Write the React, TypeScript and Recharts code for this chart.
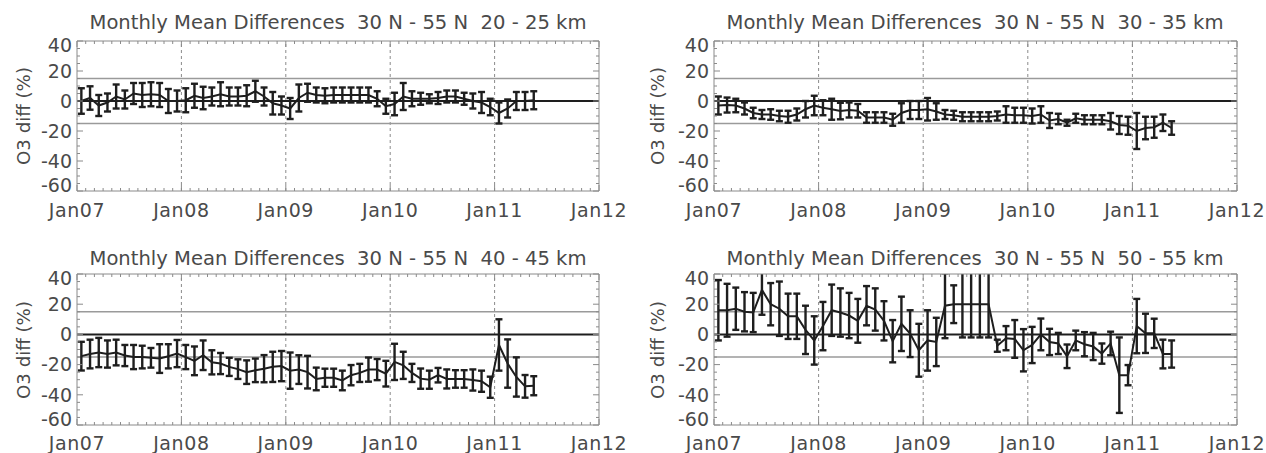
import { ComposedChart, Line, ErrorBar, XAxis, YAxis, ReferenceLine } from "recharts";

// month index: 0 = Jan07 ... 60 = Jan12, points sit mid-month
const YEAR_LABELS = ["Jan07", "Jan08", "Jan09", "Jan10", "Jan11", "Jan12"];
const Y_TICKS = [-60, -55, -50, -45, -40, -35, -30, -25, -20, -15, -10, -5, 0, 5, 10, 15, 20, 25, 30, 35, 40];
const MONTH_TICKS = Array.from({ length: 61 }, (_, i) => i);
const GRID_X = [12, 24, 36, 48];

const diff2025 = [0, 2, -3, -1, 3, 1, 5, 4, 4.5, 4, 0, 0, 0.5, 3.5, 2, 3, 4.5, 3, 3, 3.5, 6.5, 3, -1.5, -3, -5, 2, 5.5, 4, 3.5, 4, 4, 4, 4, 4, 1.5, -3.5, -2, 3, 1.5, 1.5, 1.5, 2, 3, 3, 1.5, 0, -1, -4, -8, -5, 0, 0, 0.5];
const err2025 = [8.5, 7.8, 7, 6, 8, 6, 7, 8, 8, 8, 8, 7, 8, 8, 7.5, 6, 8, 6, 6, 7, 7, 6, 7.5, 6, 7, 9, 6, 5, 5, 5, 5, 5, 5, 5, 5, 5, 7.5, 9, 5, 4, 3, 4, 4, 4, 4, 5, 7, 5.5, 7, 6, 6, 6, 6];

const diff3035 = [-3, -2.7, -3, -5, -8, -9, -9, -10, -10.5, -9, -5.5, -3, -4.5, -5.5, -6.7, -6, -6.5, -11, -11, -11, -12.5, -8, -6, -6, -5.5, -7, -9, -9.5, -10.5, -10.5, -10.5, -10.5, -10, -9, -9.5, -9.5, -10, -9, -13, -12, -14.5, -11.5, -12.5, -12.5, -12.5, -13.5, -16, -16.5, -20, -18, -17.5, -14.5, -18];
const err3035 = [6, 5, 4.5, 4, 3.5, 3, 3.5, 3.5, 4, 4, 5.5, 6.5, 5, 7, 5.5, 5, 4.5, 3.5, 3.5, 3.5, 4, 6.5, 6, 6, 7.5, 5.5, 3, 3, 3, 3, 3, 3, 3, 5.5, 5, 5, 5, 5.5, 5, 3.5, 2, 3, 3, 3, 3, 5.5, 6, 6, 12, 7.5, 7, 5.5, 4.5];

const diff4045 = [-14.4, -13, -12, -13, -12, -14, -15, -15, -15.5, -16, -14.5, -12.7, -15, -17.5, -13.8, -18.5, -19.3, -21.5, -23, -25, -23.8, -22.7, -21.5, -21, -24, -23.3, -25, -29.5, -28.7, -28.7, -30.5, -27, -25.5, -23.3, -23.3, -26, -18.2, -20.5, -25.5, -29.3, -30, -27, -29.5, -29.5, -29.5, -30.2, -31, -35, -7, -19.3, -28.2, -34.4, -34];
const err4045 = [9.5, 9.5, 9.7, 9, 8.5, 7, 8, 7.5, 6.5, 9.5, 8, 9, 8, 9.5, 9.8, 8, 7, 6, 6.5, 7.8, 7.8, 9, 10, 10, 12, 9.5, 10.8, 7.5, 6, 6, 6.5, 6.7, 6, 8, 7, 8.5, 12, 9, 6, 6.7, 6, 4.8, 6.3, 5.8, 5.8, 7, 7, 7, 17, 16, 13, 7.5, 6.3];

const diff5055 = [16, 16, 17, 15, 14.5, 29.5, 20, 17, 12, 12, 3, -4, 5.5, 16, 14.5, 12.5, 9, 19, 16.5, 9, -4.5, 7, 0.5, -10.5, -4, -5, 19, 20, 20, 20, 20, 20, -7.5, -2.5, -3, -10.5, -7, 0, -5, -6, -14.5, -4, -6.5, -8, -12.7, -6, -27, -27, 5.5, 0.7, 0.7, -13, -13];
const err5055 = [20, 17.5, 14, 13, 13, 16.5, 14, 18, 15, 15, 16, 16, 16, 17, 16, 15, 14.5, 13, 14, 13, 14, 18, 15.5, 17.5, 20, 16, 21.5, 12.5, 22, 22, 22, 22, 4, 8, 12.5, 14, 12, 10.5, 8.7, 7, 7.8, 6.5, 8, 9, 6.7, 7.8, 25, 6.7, 18, 13, 9.7, 9.5, 9];

const FONT = "DejaVu Sans";
const TEXT = "#4a4a4a";
const BORDER = "#8a8a8a";
const INK = "#1e1e1e";
const CHART_W = 633;
const YAXIS_W = 40;

function rows(vals: number[], errs: number[]) {
  return vals.map((v, i) => ({ x: i + 0.5, v, e: errs[i] }));
}

function XTickBottom(props: any) {
  const { x, y, payload, labelDy } = props;
  const v = payload.value;
  const major = v % 12 === 0;
  return (
    <g>
      <line x1={x} x2={x} y1={y} y2={y - (major ? 6 : 3)} stroke={BORDER} />
      {major && (
        <text x={x} y={y + labelDy} textAnchor="middle" fontSize={19} letterSpacing={0.6} fontFamily={FONT} fill={TEXT}>
          {YEAR_LABELS[v / 12]}
        </text>
      )}
    </g>
  );
}

function XTickTop(props: any) {
  const { x, y, payload } = props;
  const major = payload.value % 12 === 0;
  return <line x1={x} x2={x} y1={y} y2={y + (major ? 6 : 3)} stroke={BORDER} />;
}

function YTickLeft(props: any) {
  const { x, y, payload } = props;
  const v = payload.value;
  const major = v % 20 === 0;
  // end labels are pulled inside the frame, as in the original plot
  const shift = v === 40 ? 4 : v === -60 ? -6 : 0;
  return (
    <g>
      <line x1={x} x2={x + (major ? 6 : 3)} y1={y} y2={y} stroke={BORDER} />
      {major && (
        <text x={x - 5} y={y + shift} dy="0.36em" textAnchor="end" fontSize={19} fontFamily={FONT} fill={TEXT}>
          {v}
        </text>
      )}
    </g>
  );
}

function YTickRight(props: any) {
  const { x, y, payload } = props;
  const major = payload.value % 20 === 0;
  return <line x1={x} x2={x - (major ? 6 : 3)} y1={y} y2={y} stroke={BORDER} />;
}

type Margin = { top: number; right: number; bottom: number; left: number };

type PanelProps = {
  id: string;
  left: number;
  top: number;
  height: number;
  xh: number;
  margin: Margin;
  labelDy: number;
  data: { x: number; v: number; e: number }[];
};

function Panel({ id, left, top, height, xh, margin, labelDy, data }: PanelProps) {
  return (
    <div className={`panel-${id}`} style={{ position: "absolute", left, top }}>
      <ComposedChart width={CHART_W} height={height} data={data} margin={margin}>
        <XAxis
          xAxisId="b"
          dataKey="x"
          type="number"
          domain={[0, 60]}
          ticks={MONTH_TICKS}
          interval={0}
          height={xh}
          tickSize={0}
          tickMargin={0}
          tickLine={false}
          axisLine={{ stroke: BORDER }}
          tick={<XTickBottom labelDy={labelDy} />}
          allowDataOverflow
        />
        <XAxis
          xAxisId="t"
          dataKey="x"
          orientation="top"
          type="number"
          domain={[0, 60]}
          ticks={MONTH_TICKS}
          interval={0}
          height={1}
          tickSize={0}
          tickMargin={0}
          tickLine={false}
          axisLine={{ stroke: BORDER }}
          tick={<XTickTop />}
          allowDataOverflow
        />
        <YAxis
          yAxisId="l"
          type="number"
          domain={[-60, 40]}
          ticks={Y_TICKS}
          interval={0}
          width={YAXIS_W}
          tickSize={0}
          tickMargin={0}
          tickLine={false}
          axisLine={{ stroke: BORDER }}
          tick={<YTickLeft />}
          allowDataOverflow
        />
        <YAxis
          yAxisId="r"
          orientation="right"
          type="number"
          domain={[-60, 40]}
          ticks={Y_TICKS}
          interval={0}
          width={1}
          tickSize={0}
          tickMargin={0}
          tickLine={false}
          axisLine={{ stroke: BORDER }}
          tick={<YTickRight />}
          allowDataOverflow
        />
        {GRID_X.map((gx) => (
          <ReferenceLine key={gx} xAxisId="b" yAxisId="l" x={gx} stroke={BORDER} strokeDasharray="3 3" />
        ))}
        <ReferenceLine xAxisId="b" yAxisId="l" y={15} stroke="#9a9a9a" strokeWidth={1.5} />
        <ReferenceLine xAxisId="b" yAxisId="l" y={-15} stroke="#9a9a9a" strokeWidth={1.5} />
        <ReferenceLine xAxisId="b" yAxisId="l" y={0} stroke={INK} strokeWidth={2} />
        <Line
          xAxisId="b"
          yAxisId="l"
          dataKey="v"
          stroke={INK}
          strokeWidth={2}
          dot={false}
          isAnimationActive={false}
        >
          <ErrorBar dataKey="e" direction="y" width={3.5} stroke={INK} strokeWidth={2.4} isAnimationActive={false} />
        </Line>
      </ComposedChart>
    </div>
  );
}

const TITLE = "Monthly Mean Differences  30 N - 55 N";
const panels = [
  { id: "a", range: "20 - 25 km", d: rows(diff2025, err2025), left: 0, top: 0, h: 226, xh: 30, m: { top: 40, right: 33, bottom: 5, left: 37 }, dy: 26, cx: 338, ty: 29.3, lx: 30, ly: 116 },
  { id: "b", range: "30 - 35 km", d: rows(diff3035, err3035), left: 633, top: 0, h: 226, xh: 30, m: { top: 40, right: 28, bottom: 5, left: 41 }, dy: 26, cx: 975, ty: 29.3, lx: 664, ly: 116 },
  { id: "c", range: "40 - 45 km", d: rows(diff4045, err4045), left: 0, top: 226, h: 227, xh: 25, m: { top: 47, right: 33, bottom: 3, left: 37 }, dy: 25, cx: 338, ty: 265.3, lx: 30, ly: 350 },
  { id: "d", range: "50 - 55 km", d: rows(diff5055, err5055), left: 633, top: 226, h: 227, xh: 25, m: { top: 47, right: 28, bottom: 3, left: 41 }, dy: 25, cx: 975, ty: 265.3, lx: 664, ly: 350 },
];

// plot-area clip (chart-local coordinates) so whiskers stop at the frame like the original
const clipCss = panels.map((p) => `.panel-${p.id} .recharts-errorBars, .panel-${p.id} .recharts-errorBar { clip-path: url(#clip-${p.id}); }`).join("\n");

export default function App() {
  return (
    <div style={{ position: "fixed", left: 0, top: 0, width: 1266, height: 453, background: "#fff" }}>
      <style>{clipCss}</style>
      <svg width={0} height={0} style={{ position: "absolute" }}>
        <defs>
          {panels.map((p) => (
            <clipPath key={p.id} id={`clip-${p.id}`} clipPathUnits="userSpaceOnUse">
              <rect
                x={p.m.left + YAXIS_W}
                y={p.m.top + 1}
                width={CHART_W - p.m.left - YAXIS_W - p.m.right - 1}
                height={p.h - p.m.top - 1 - p.m.bottom - p.xh}
              />
            </clipPath>
          ))}
        </defs>
      </svg>
      {panels.map((p) => (
        <Panel key={p.id} id={p.id} left={p.left} top={p.top} height={p.h} xh={p.xh} margin={p.m} labelDy={p.dy} data={p.d} />
      ))}
      <svg width={1266} height={453} style={{ position: "absolute", left: 0, top: 0, pointerEvents: "none" }}>
        {panels.map((p) => (
          <g key={p.id} fontFamily={FONT} fill={TEXT}>
            <text x={p.cx} y={p.ty} textAnchor="middle" fontSize={19} textLength={497} lengthAdjust="spacingAndGlyphs" xmlSpace="preserve">
              {`${TITLE}  ${p.range}`}
            </text>
            <text
              x={p.lx}
              y={p.ly}
              textAnchor="middle"
              fontSize={18.5}
              textLength={98}
              lengthAdjust="spacingAndGlyphs"
              transform={`rotate(-90 ${p.lx} ${p.ly})`}
            >
              O3 diff (%)
            </text>
          </g>
        ))}
      </svg>
    </div>
  );
}
